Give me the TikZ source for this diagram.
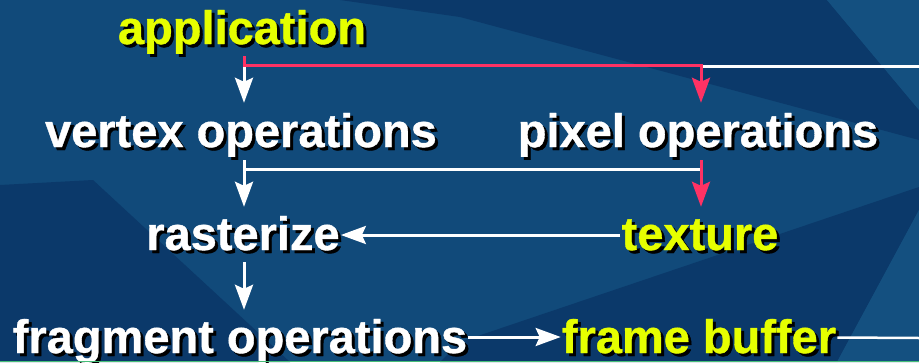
\documentclass[tikz,border=0pt]{standalone}
\usepackage{fontspec}
\setmainfont{Liberation Sans}
\newfontfamily\heavyfont{Liberation Sans Bold}[FakeBold=0.8]
\usetikzlibrary{arrows.meta,calc}
\definecolor{bgblue}{RGB}{17,74,122}
\definecolor{bgdark}{RGB}{11,57,106}
\definecolor{bglight}{RGB}{20,80,128}
\definecolor{ylw}{RGB}{230,255,0}
\definecolor{rd}{RGB}{255,50,100}
\definecolor{grn}{RGB}{70,190,120}
\newcommand\shtext[2]{\rlap{\kern3pt\raisebox{-3pt}{\color{black}#2}}{\color{#1}#2}}
\begin{document}
\begin{tikzpicture}[x=1pt,y=-1pt,
  lbl/.style={inner xsep=1pt, inner ysep=0pt, text height=34pt, text depth=11pt,
              font=\fontsize{47}{52}\heavyfont, anchor=base},
  wl/.style={draw=white, line width=3pt},
  rl/.style={draw=rd, line width=3pt},
  tip/.style={-{Stealth[length=25pt,width=18pt,inset=4pt]}}]
% background
\fill[bgblue] (0,0) rectangle (919,362);
\fill[bgdark] (340,0) -- (827,0) -- (919,110) -- (919,140) -- (460,17) -- cycle;
\fill[bglight] (827,0) -- (919,0) -- (919,110) -- cycle;
\fill[bgdark] (0,185) -- (93,180) -- (290,362) -- (0,362) -- cycle;
\fill[bgdark] (440,362) -- (460,342) -- (919,187) -- (919,210) -- (837,362) -- cycle;
\fill[bglight] (837,362) -- (919,210) -- (919,362) -- cycle;
\useasboundingbox (0,0) rectangle (919,362);
% nodes
\node[lbl] (app)  at (242,44)  {\shtext{ylw}{application}};
\node[lbl] (vert) at (241,147) {\shtext{white}{vertex operations}};
\node[lbl] (pix)  at (698,147) {\shtext{white}{pixel operations}};
\node[lbl] (ras)  at (243,250) {\shtext{white}{rasterize}};
\node[lbl] (tex)  at (700,250) {\shtext{ylw}{texture}};
\node[lbl] (frag) at (240,353) {\shtext{white}{fragment operations}};
\node[lbl] (fb)   at (699,353) {\shtext{ylw}{frame buffer}};
% columns, junction levels and free ends
\coordinate (colL) at (244,0);
\coordinate (colR) at (701,0);
\coordinate (jr) at (0,65.5);
\coordinate (jw) at (0,169.5);
\coordinate (edge1) at (919,66.5);
\coordinate (edge2) at (919,338);
% connectors
\draw[wl,tip] (colL |- jr) -- ([yshift=10pt]vert.north -| colL);
\draw[wl,line width=2.5pt] (colR |- edge1) -- (edge1);
\draw[rl,tip] ([yshift=-1pt]app.south -| colL) -- (colL |- jr) -| ([yshift=10pt]pix.north -| colR);
\draw[wl,tip] ([yshift=-2pt]vert.south -| colL) -- ([yshift=9pt]ras.north -| colL);
\draw[wl] (colL |- jw) -- (colR |- jw);
\draw[rl,tip] ([yshift=-2pt]pix.south -| colR) -- ([yshift=9pt]tex.north -| colR);
\draw[wl,tip] ([yshift=3.5pt]tex.west) -- ([yshift=3.5pt]ras.east);
\draw[wl,tip] ([yshift=-1pt]ras.south -| colL) -- ([yshift=9pt]frag.north -| colL);
\draw[wl,tip] ([yshift=4.5pt]frag.east) -- ([yshift=4.5pt]fb.west);
\draw[wl,line width=2.5pt] ([yshift=4pt]fb.east) -- (edge2);
\draw[grn,line width=1pt] (0,361.5) -- (919,361.5);
\end{tikzpicture}
\end{document}
